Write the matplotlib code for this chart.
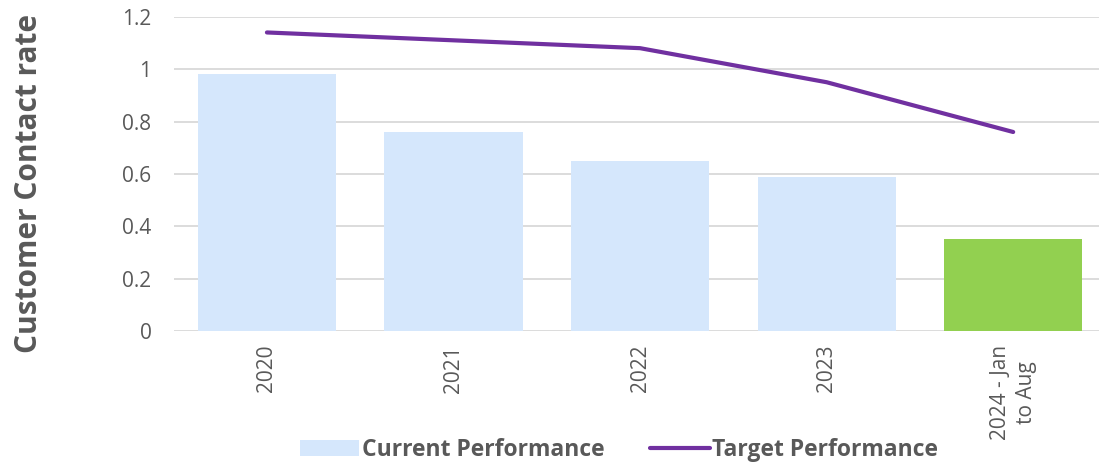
import matplotlib.pyplot as plt
import numpy as np

plt.rcParams['font.family'] = ['Open Sans', 'DejaVu Sans']

categories = ['2020', '2021', '2022', '2023', '2024 - Jan\nto Aug']
current = [0.98, 0.76, 0.65, 0.59, 0.35]
target = [1.14, 1.11, 1.08, 0.95, 0.76]
bar_colors = ['#D5E7FC', '#D5E7FC', '#D5E7FC', '#D5E7FC', '#92D050']

grey = '#595959'
fig = plt.figure(figsize=(10.99, 4.65), dpi=100)
ax = fig.add_axes([0.158, 0.288, 0.842, 0.676])

x = np.arange(len(categories))
bars = ax.bar(x, current, width=0.74, color=bar_colors, zorder=2, label='Current Performance')
ax.plot(x, target, color='#7030A0', linewidth=3, solid_capstyle='round', zorder=3,
        label='Target Performance')

ax.set_xlim(-0.5, 4.46)
ax.set_ylim(0, 1.2)
ax.set_yticks([0, 0.2, 0.4, 0.6, 0.8, 1.0, 1.2])
ax.set_yticklabels(['0', '0.2', '0.4', '0.6', '0.8', '1', '1.2'])
ax.set_xticks(x)
ax.set_xticklabels(categories, rotation=90, multialignment='center', linespacing=1.3)
ax.tick_params(axis='both', length=0, labelsize=15, colors=grey, pad=10)
ax.tick_params(axis='y', pad=16)
ax.grid(axis='y', color='#D9D9D9', linewidth=1.3, zorder=0)
for s in ax.spines.values():
    s.set_visible(False)

ax.set_ylabel('Customer Contact rate', fontsize=21.5, fontweight='bold', color=grey)
ax.yaxis.set_label_coords(-0.14, 0.47)

handles = [bars.patches[0], ax.lines[0]]
leg = fig.legend(handles, ['Current Performance', 'Target Performance'], loc='center',
                 bbox_to_anchor=(0.563, 0.032), ncol=2, frameon=False,
                 prop={'size': 16.5, 'weight': 'bold'}, handlelength=2.6, handletextpad=0.1,
                 columnspacing=2.0)
for t in leg.get_texts():
    t.set_color(grey)

fig.savefig('out.png', dpi=100)
